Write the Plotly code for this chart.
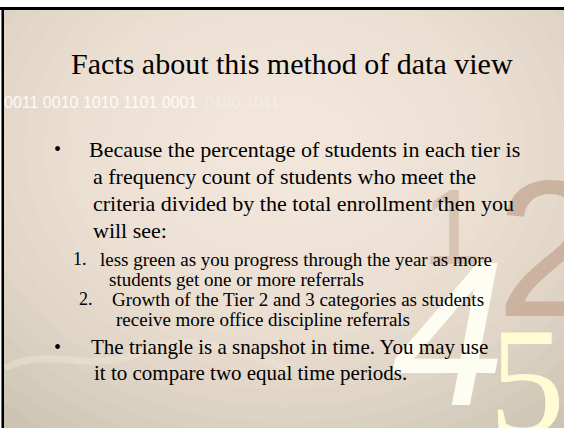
import plotly.graph_objects as go

# slide text
title = "Facts about this method of data view"
binary_strip = ["0011 0010 1010 1101 0001", "0100 1011"]

bullet_1 = ["Because the percentage of students in each tier is",
            "a frequency count of students who meet the",
            "criteria divided by the total enrollment then you",
            "will see:"]
sub_1 = ["less green as you progress through the year as more",
         "students get one or more referrals"]
sub_2 = ["Growth of the Tier 2 and 3 categories as students",
         "receive more office discipline referrals"]
bullet_2 = ["The triangle is a snapshot in time. You may use",
            "it to compare two equal time periods."]

W, H = 564, 428
SERIF = "Liberation Serif, Times New Roman, serif"
SANS = "Liberation Sans, Arial, sans-serif"

fig = go.Figure()

shapes = []
shapes.append(dict(type="rect", x0=0, x1=W, y0=0, y1=H, fillcolor="#ccc3b2",
                   line_width=0, layer="below"))
# soft radial glow, built from stacked ellipses
n = 18
for i in range(n):
    f = 1 - i / n
    rx, ry = 60 + 360 * f, 40 + 300 * f
    cx, cy = 285, 150
    shapes.append(dict(type="circle", x0=cx - rx, x1=cx + rx, y0=cy - ry, y1=cy + ry,
                       fillcolor="#fcf9ea", opacity=0.085, line_width=0, layer="below"))
# faint swoosh
shapes.append(dict(type="path", path="M 5 368 C 50 345, 90 375, 140 352 S 230 352, 290 368",
                   line=dict(color="#efe8d6", width=7), opacity=0.45, layer="below"))
# top white strip and black frame lines
shapes.append(dict(type="rect", x0=0, x1=W, y0=0, y1=7, fillcolor="white", line_width=0))
shapes.append(dict(type="rect", x0=0, x1=W, y0=7, y1=10, fillcolor="black", line_width=0))
shapes.append(dict(type="rect", x0=0, x1=1.5, y0=10, y1=H, fillcolor="white", line_width=0))
shapes.append(dict(type="rect", x0=1.5, x1=4, y0=7, y1=H, fillcolor="black", line_width=0))

ann = []

def add(text, x, y, size, color="black", family=SERIF, xanchor="left", **kw):
    ann.append(dict(text=text, x=x, y=y, xref="x", yref="y", showarrow=False,
                    xanchor=xanchor, yanchor="middle",
                    font=dict(family=family, size=size, color=color), **kw))

# decorative numbers
add("1", 420, 226, 108, color="rgba(196,172,152,0.55)", family=SANS)
add("2", 494, 248, 194, color="rgba(196,166,146,0.75)", family=SANS)
add("<i>4</i>", 389, 334, 206, color="rgba(255,255,244,0.95)", family=SANS)
add("5", 487, 382, 152, color="#fffcd4", family=SERIF)

# title and strip
add(title, 292, 63, 30, xanchor="center")
add(binary_strip[0], 2, 102, 16, color="rgba(255,255,255,0.9)", family=SANS)
add(binary_strip[1], 203, 102, 16, color="rgba(255,255,255,0.3)", family=SANS)

# first bullet
add("•", 52, 149, 20)
for i, line in enumerate(bullet_1):
    add(line, 87 if i == 0 else 91, 149 + 27 * i, 22)

# numbered sub items
add("1.", 71, 259, 18)
add(sub_1[0], 98, 259, 19)
add(sub_1[1], 107, 279, 19)
add("2.", 77, 299, 18)
add(sub_2[0], 110, 299, 19)
add(sub_2[1], 114, 319, 19)

# second bullet
add("•", 52, 347, 20)
add(bullet_2[0], 89, 347, 21)
add(bullet_2[1], 92, 373, 21)

fig.update_layout(
    width=W, height=H, margin=dict(l=0, r=0, t=0, b=0),
    paper_bgcolor="#ccc3b2", plot_bgcolor="rgba(0,0,0,0)",
    xaxis=dict(range=[0, W], visible=False, fixedrange=True),
    yaxis=dict(range=[H, 0], visible=False, fixedrange=True),
    shapes=shapes, annotations=ann, showlegend=False,
)

fig.write_html("out.html", config={"displayModeBar": False},
               post_script="document.body.style.margin='0';")
